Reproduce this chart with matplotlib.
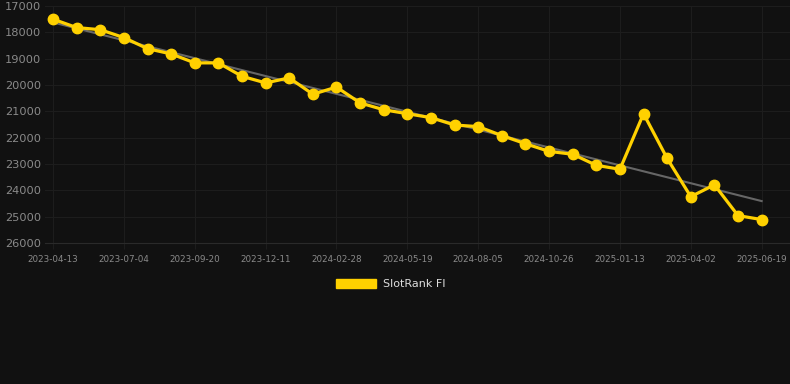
import numpy as np
import matplotlib
matplotlib.use('Agg')
import matplotlib.pyplot as plt
from matplotlib.patches import Patch

# dates of each point (labels shown every 3rd point)
dates = ['2023-04-13', '2023-05-10', '2023-06-07', '2023-07-04', '2023-07-30', '2023-08-25',
         '2023-09-20', '2023-10-17', '2023-11-14', '2023-12-11', '2024-01-06', '2024-02-02',
         '2024-02-28', '2024-03-26', '2024-04-22', '2024-05-19', '2024-06-13', '2024-07-09',
         '2024-08-05', '2024-09-01', '2024-09-29', '2024-10-26', '2024-11-21', '2024-12-17',
         '2025-01-13', '2025-02-08', '2025-03-07', '2025-04-02', '2025-04-28', '2025-05-24',
         '2025-06-19']
ranks = [17500, 17820, 17900, 18200, 18620, 18820, 19160, 19160, 19670, 19920, 19730,
         20350, 20080, 20680, 20940, 21090, 21240, 21520, 21580, 21920, 22230, 22520,
         22630, 23050, 23200, 21090, 22790, 24240, 23790, 24960, 25110]
yticks = [17000, 18000, 19000, 20000, 21000, 22000, 23000, 24000, 25000, 26000]

bg = '#111111'
yellow = '#FFD100'

fig = plt.figure(figsize=(7.9, 3.84), dpi=100, facecolor=bg)
ax = fig.add_axes([45 / 790, 1 - 243 / 384, 745 / 790, 237 / 384], facecolor=bg)

x = np.arange(len(dates))
# linear trend line
k, b = np.polyfit(x, ranks, 1)
ax.plot(x, k * x + b, color='#666666', lw=1.5, zorder=2)
ax.plot(x, ranks, color=yellow, lw=2.3, marker='o', ms=7.5, zorder=3)

ax.set_ylim(26000, 17000)
ax.set_xlim(-0.34, 31.2)
ax.set_yticks(yticks)
ax.set_yticklabels([str(v) for v in yticks])
ax.set_xticks(x[::3])
ax.set_xticklabels(dates[::3])

ax.grid(True, color='#1d1d1d', lw=0.8)
ax.set_axisbelow(True)
for s in ax.spines.values():
    s.set_visible(False)
ax.spines['bottom'].set_visible(True)
ax.spines['bottom'].set_color('#2a2a2a')
ax.spines['bottom'].set_linewidth(0.8)
ax.tick_params(axis='y', length=0, colors='#8a8a8a', labelsize=8.2, pad=3)
ax.tick_params(axis='x', length=4, color='#1d1d1d', colors='#8a8a8a', labelsize=6.3, pad=5)

leg = fig.legend(handles=[Patch(facecolor=yellow, edgecolor=yellow, label='SlotRank FI')],
                 loc='center', bbox_to_anchor=(391 / 790, 1 - 284 / 384),
                 frameon=False, fontsize=8, handlelength=3.6, handleheight=0.9,
                 handletextpad=0.6)
for t in leg.get_texts():
    t.set_color('#dddddd')

fig.savefig('out.png', dpi=100, facecolor=bg)
